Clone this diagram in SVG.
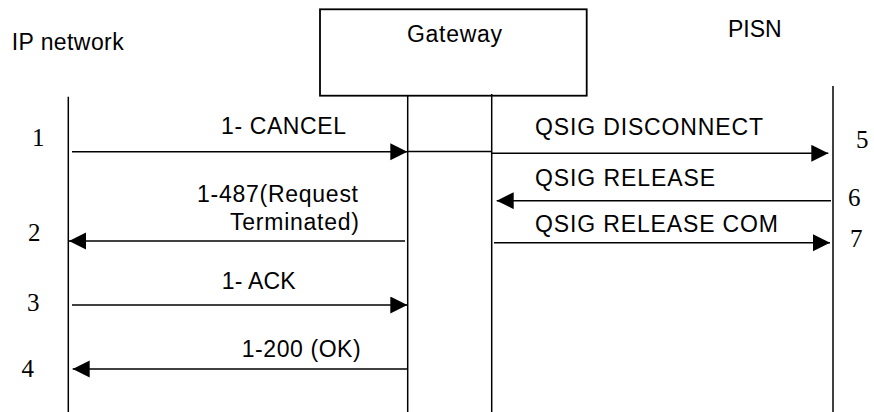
<svg xmlns="http://www.w3.org/2000/svg" width="874" height="412" viewBox="0 0 874 412">
<style>
.lbl{font-family:"Liberation Sans",Arial,sans-serif;font-size:23px;fill:#000}
.num{font-family:"Liberation Serif","Times New Roman",serif;font-size:25px;fill:#000}
.life{stroke:#000;stroke-width:1.5;fill:none}
.msg{stroke:#000;stroke-width:1.5;fill:none}
</style>
<defs>
<marker id="ah" markerUnits="userSpaceOnUse" markerWidth="18" markerHeight="18" refX="17" refY="8.5" orient="auto">
<path d="M0,0 L17,8.5 L0,17 Z" fill="#000"/>
</marker>
</defs>
<rect width="874" height="412" fill="#fff"/>
<g id="ip-network">
<text class="lbl" x="11.7" y="50" textLength="112">IP network</text>
<line class="life" x1="68.3" y1="96.7" x2="68.3" y2="412"/>
</g>
<g id="gateway">
<rect x="320" y="9.3" width="266.7" height="86.4" fill="none" stroke="#000" stroke-width="1.8"/>
<text class="lbl" x="407" y="42.3" textLength="95">Gateway</text>
<line class="life" x1="407.7" y1="96" x2="407.7" y2="412"/>
<line class="life" x1="491.7" y1="94" x2="491.7" y2="412"/>
</g>
<g id="pisn">
<text class="lbl" x="728" y="37">PISN</text>
<line class="life" x1="833" y1="86" x2="833" y2="412"/>
</g>
<g id="connectors">
<line class="msg" x1="72" y1="151.7" x2="407.3" y2="151.7" marker-end="url(#ah)"/>
<line class="msg" x1="407.3" y1="151.5" x2="491.7" y2="151.5"/>
<line class="msg" x1="491.7" y1="153.3" x2="828.3" y2="153.3" marker-end="url(#ah)"/>
<line class="msg" x1="831" y1="200.7" x2="496.7" y2="200.7" marker-end="url(#ah)"/>
<line class="msg" x1="405" y1="241" x2="69" y2="241" marker-end="url(#ah)"/>
<line class="msg" x1="494" y1="242.7" x2="830" y2="242.7" marker-end="url(#ah)"/>
<line class="msg" x1="72" y1="305" x2="407.3" y2="305" marker-end="url(#ah)"/>
<line class="msg" x1="407" y1="369" x2="72.7" y2="369" marker-end="url(#ah)"/>
</g>
<g id="labels">
<text class="lbl" x="221" y="134" textLength="125">1- CANCEL</text>
<text class="lbl" x="535" y="135.3" textLength="228">QSIG DISCONNECT</text>
<text class="lbl" x="535" y="185.7" textLength="180">QSIG RELEASE</text>
<text class="lbl" x="197" y="201.7" textLength="161">1-487(Request</text>
<text class="lbl" x="230" y="230" textLength="129">Terminated)</text>
<text class="lbl" x="535" y="232.3" textLength="243">QSIG RELEASE COM</text>
<text class="lbl" x="221.7" y="289" textLength="74">1- ACK</text>
<text class="lbl" x="241.7" y="357.3" textLength="119">1-200 (OK)</text>
</g>
<g id="step-numbers">
<text class="num" x="32" y="146">1</text>
<text class="num" x="28" y="240.7">2</text>
<text class="num" x="27" y="310.7">3</text>
<text class="num" x="21.5" y="376.7">4</text>
<text class="num" x="856" y="148">5</text>
<text class="num" x="848" y="206">6</text>
<text class="num" x="850" y="247">7</text>
</g>
</svg>
